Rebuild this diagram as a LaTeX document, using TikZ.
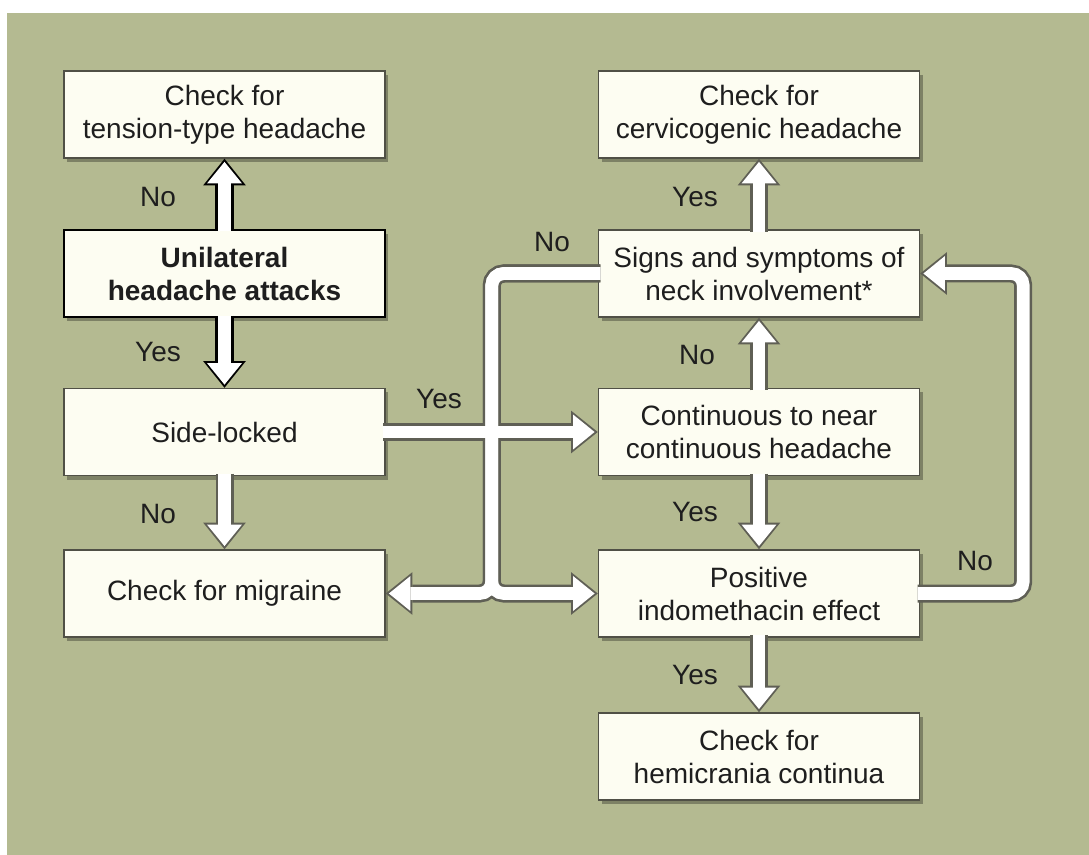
\documentclass[tikz,border=0pt]{standalone}
\usepackage{fontspec}
\setmainfont{Liberation Sans}
\usetikzlibrary{arrows.meta,calc,shadows}

\definecolor{panel}{RGB}{180,186,145}
\definecolor{boxfill}{RGB}{253,253,242}
\definecolor{boxline}{RGB}{80,80,70}
\definecolor{flowline}{RGB}{95,95,85}
\definecolor{txt}{RGB}{30,30,30}

\newcommand{\boxfont}{\fontsize{21}{24.75}\selectfont}

\tikzset{
  box/.style={draw=boxline, fill=boxfill, line width=1.1pt, minimum width=240.75pt,
    minimum height=65.25pt, inner sep=0pt, align=center, text=txt,
    drop shadow={shadow xshift=2.5pt, shadow yshift=-3pt, opacity=0.3, fill=black}},
  mainbox/.style={box, draw=black, line width=2.2pt, font=\boxfont\bfseries},
  lbl/.style={text=txt, inner sep=0pt},
  % arrows are drawn twice: outline first, white body on top
  outerpass/.style={draw=flowline, line width=13.5pt, shorten <=-2pt,
    -{Triangle[length=20pt,width=32pt,line width=0pt]}},
  innerpass/.style={draw=white, line width=9.5pt, shorten <=-2pt, shorten >=2.4pt,
    -{Triangle[length=16pt,width=26pt,line width=0pt]}},
}

% every connector, with fn = normal and fb = bold style
\newcommand{\flowpaths}{%
  \draw[fb] (uni) -- (tension);
  \draw[fb] (uni) -- (side);
  \draw[fn] (side) -- (cont);
  \draw[fn] (side) -- (migraine);
  \draw[fn] (cont) -- (signs);
  \draw[fn] (cont) -- (positive);
  \draw[fn] (signs) -- (cervico);
  \draw[fn] (positive) -- (hemi);
  \draw[fn, rounded corners=9pt] (positive.east) -- ++(103,0) |- (signs.east);
  \draw[fn, rounded corners=9pt] (signs.west) -| (jn) -- (migraine.east);
  \draw[fn, rounded corners=9pt] (signs.west) -| (jn) -- (positive.west);
}

\begin{document}
\begin{tikzpicture}[x=0.75pt, y=-0.75pt, font=\boxfont]
  \useasboundingbox (0,0) rectangle (1089,855);
  % background panel
  \fill[panel] (7,13) rectangle (1089,855);

  % left column
  \node[box] (tension) at (224.5,114.5) {Check for\\tension-type headache};
  \node[mainbox] (uni) at (224.5,273.5) {Unilateral\\headache attacks};
  \node[box] (side) at (224.5,432) {Side-locked};
  \node[box] (migraine) at (224.5,593.5) {Check for migraine};

  % right column
  \node[box] (cervico) at (759,114.5) {Check for\\cervicogenic headache};
  \node[box] (signs) at (759,273.5) {Signs and symptoms of\\neck involvement*};
  \node[box] (cont) at (759,432) {Continuous to near\\continuous headache};
  \node[box] (positive) at (759,593.5) {Positive\\indomethacin effect};
  \node[box] (hemi) at (759,756.5) {Check for\\hemicrania continua};

  % split point of the "No" branch
  \coordinate (mid) at ($(side.east)!0.5!(cont.west)$);
  \coordinate (jn) at (mid |- migraine.east);

  % connectors: outlines, then bodies
  \tikzset{fn/.style={outerpass}, fb/.style={outerpass, draw=black, line width=14.5pt}}
  \flowpaths
  \tikzset{fn/.style={innerpass}, fb/.style={innerpass}}
  \flowpaths

  % labels
  \node[lbl] (no1) at (158,197) {No};
  \node[lbl] (yes1) at (158,352) {Yes};
  \node[lbl] (no2) at (158,514) {No};
  \node[lbl] (yes2) at (439,399) {Yes};
  \node[lbl] (no3) at (552,242) {No};
  \node[lbl] (yes3) at (695,197) {Yes};
  \node[lbl] (no4) at (697,355) {No};
  \node[lbl] (yes4) at (695,512) {Yes};
  \node[lbl] (yes5) at (695,675) {Yes};
  \node[lbl] (no5) at (975,561) {No};
\end{tikzpicture}
\end{document}
